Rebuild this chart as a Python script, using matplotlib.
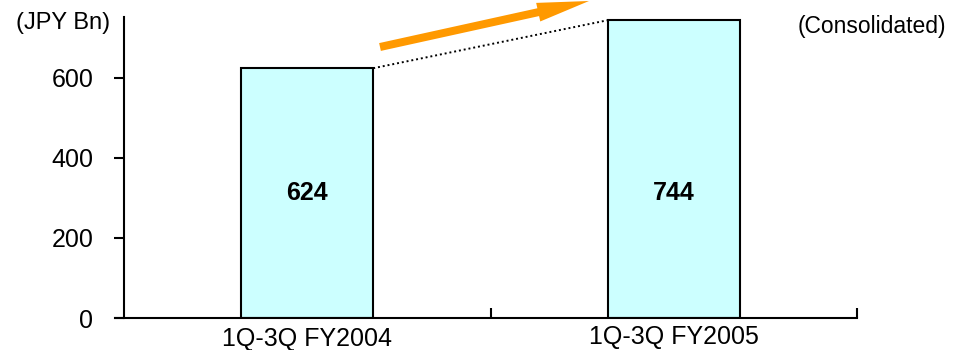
import matplotlib.pyplot as plt
from matplotlib.patches import FancyArrow
from matplotlib.transforms import IdentityTransform

plt.rcParams['font.family'] = ['Liberation Sans', 'DejaVu Sans']

# Net sales, 1Q-3Q cumulative (JPY Bn)
periods = ['1Q-3Q FY2004', '1Q-3Q FY2005']
sales = [624, 744]
yticks = [0, 200, 400, 600]

W, H = 955, 350
fig = plt.figure(figsize=(W / 100, H / 100), dpi=100)
ax = fig.add_axes([124 / W, 32 / H, (857 - 124) / W, (318 - 17) / H])

x = list(range(len(periods)))
bw = 0.36
ax.bar(x, sales, width=bw, color='#CCFFFF', edgecolor='black', linewidth=1.5, zorder=2)

# value labels inside the bars
for xi, v in zip(x, sales):
    ax.text(xi, 312, f'{v}', ha='center', va='center', fontsize=18, fontweight='bold')

# dotted connector between bar tops
ax.plot([x[0] + bw / 2, x[1] - bw / 2], [sales[0], sales[1]], color='black',
        linestyle=(0, (1, 1.5)), linewidth=1.4, zorder=3)

ax.set_xlim(-0.5, 1.5)
ax.set_ylim(0, 752)
ax.set_yticks(yticks)
ax.set_yticklabels([str(t) for t in yticks], fontsize=18)
ax.tick_params(axis='y', direction='out', length=7, width=1.5, pad=15)

ax.set_xticks([])
ax.set_xticks([0.5, 1.5], minor=True)
ax.tick_params(axis='x', which='minor', direction='in', length=7, width=1.5)

# category labels under the axis
ax.text(0, -0.071, periods[0], transform=ax.get_xaxis_transform(), ha='center', va='center', fontsize=18)
ax.text(1, -0.062, periods[1], transform=ax.get_xaxis_transform(), ha='center', va='center', fontsize=18)

for side in ['top', 'right']:
    ax.spines[side].set_visible(False)
ax.spines['left'].set_linewidth(1.5)
ax.spines['bottom'].set_linewidth(1.5)
ax.spines['bottom'].set_bounds(-0.5 - 9 / 366.5, 1.5)

fig.text(63 / W, 1 - 23 / H, '(JPY Bn)', ha='center', va='center', fontsize=17)
fig.text(872 / W, 1 - 27 / H, '(Consolidated)', ha='center', va='center', fontsize=16.5)

# growth arrow, in pixel coordinates
ax0, ay0 = 380, H - 47
ax1, ay1 = 589, H - 1
arrow = FancyArrow(ax0, ay0, ax1 - ax0, ay1 - ay0, width=8, head_width=19, head_length=52,
                   length_includes_head=True, color='#FF9900', linewidth=0,
                   transform=IdentityTransform(), clip_on=False)
fig.patches.append(arrow)

fig.savefig('out.png', dpi=100)
